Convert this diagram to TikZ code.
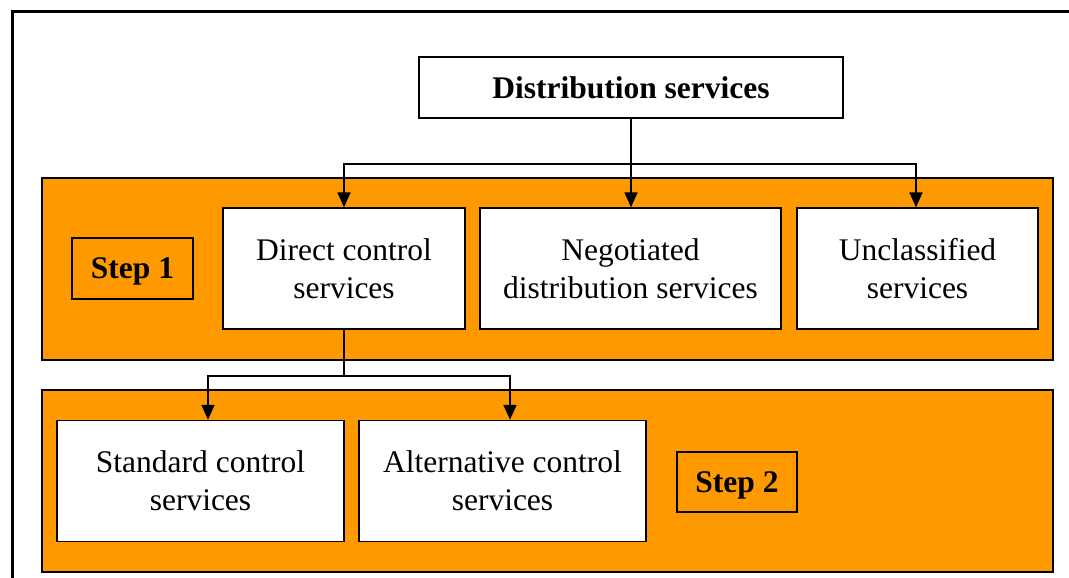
\documentclass[tikz,border=0pt]{standalone}
\usepackage{fontspec}
\setmainfont{Liberation Serif}
\usetikzlibrary{arrows.meta,calc}
\definecolor{stepor}{HTML}{FF9900}
\begin{document}
\begin{tikzpicture}[x=1pt,y=1pt,
  box/.style={draw=black,line width=1.4pt,fill=white,rectangle,inner sep=0pt,align=center,
    font=\fontsize{31.5}{38}\selectfont},
  bgbox/.style={draw=black,line width=1.4pt,fill=stepor,rectangle,inner sep=0pt},
  steplbl/.style={draw=black,line width=1.4pt,fill=stepor,rectangle,inner sep=0pt,
    text depth=0pt,font=\fontsize{31.5}{38}\selectfont\bfseries},
  arr/.style={line width=1.8pt,-{Triangle[length=15pt,width=13pt]}},
  conn/.style={line width=1.8pt}]
\useasboundingbox (0,0) rectangle (1069,-578);
% outer frame
\draw[line width=3pt] (12,-590) -- (12,-12) -- (1080,-12);
% step backgrounds
\node[bgbox,minimum width=1011pt,minimum height=182pt] (bg1) at (547.5,-269) {};
\node[bgbox,minimum width=1011pt,minimum height=182pt] (bg2) at (547.5,-481) {};
% nodes
\node[box,minimum width=424pt,minimum height=61pt,font=\fontsize{31.5}{38}\selectfont\bfseries] (top) at (631,-87.5) {Distribution services};
\node[steplbl,minimum width=121pt,minimum height=61pt] (s1) at (132.5,-268.5) {Step 1};
\node[box,minimum width=242pt,minimum height=121pt] (direct) at (344,-268.5) {Direct control\\services};
\node[box,minimum width=301pt,minimum height=121pt] (neg) at (630.5,-268.5) {Negotiated\\distribution services};
\node[box,minimum width=241pt,minimum height=121pt] (uncl) at (917.5,-268.5) {Unclassified\\services};
\node[box,minimum width=287pt,minimum height=121pt] (std) at (200.5,-481) {Standard control\\services};
\node[box,minimum width=287pt,minimum height=121pt] (alt) at (502.5,-481) {Alternative control\\services};
\node[steplbl,minimum width=120pt,minimum height=60pt] (s2) at (737,-482) {Step 2};
% connectors
\draw[conn] (top.south) -- ++(0,-45) coordinate (tb);
\draw[arr] (tb) -| (direct.north);
\draw[arr] (tb) -- (tb |- neg.north);
\draw[arr] (tb) -| ([xshift=-1.5pt]uncl.north);
\draw[conn] (direct.south) -- ++(0,-46) coordinate (bb);
\draw[arr] (bb) -| ([xshift=7.5pt]std.north);
\draw[arr] (bb) -| ([xshift=7.5pt]alt.north);
\end{tikzpicture}
\end{document}
